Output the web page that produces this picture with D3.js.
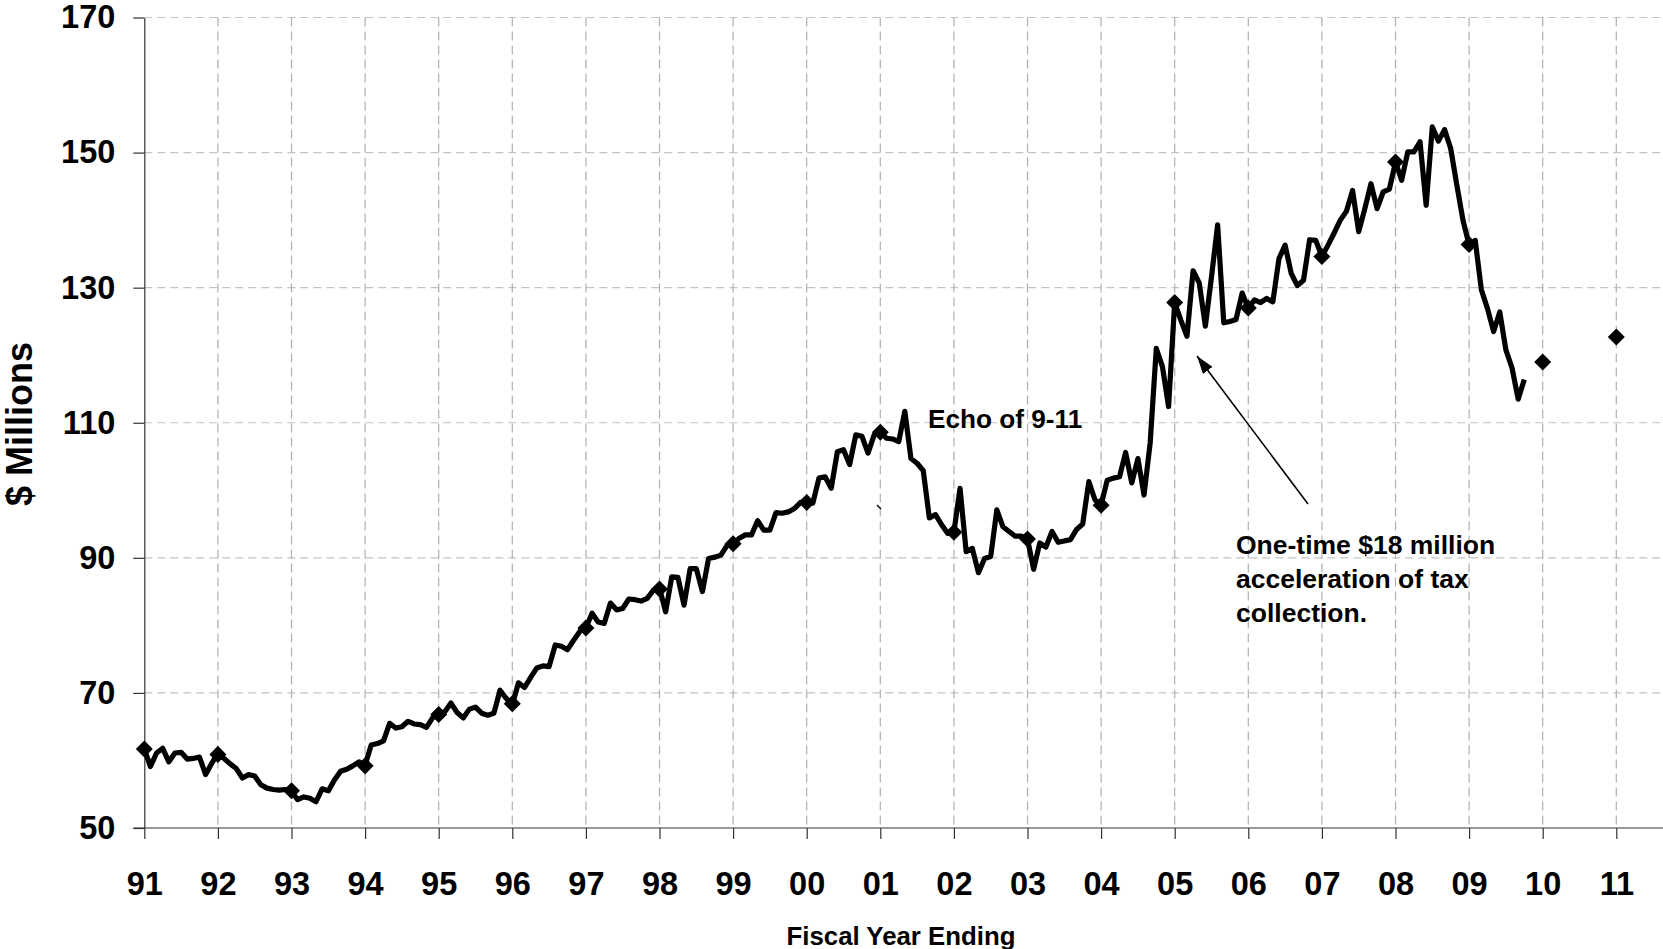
<!DOCTYPE html>
<html><head><meta http-equiv="Content-Type" content="text/html; charset=UTF-8">
<script src="https://d3js.org/d3.v7.min.js"></script>
<style>
  body { margin: 0; background: #fff; }
  svg text { font-family: "Liberation Sans", Arial, sans-serif; font-weight: bold; fill: #000; }
</style>
</head>
<body>
<div id="body"></div>
<script type="text/javascript">

var w = 1663,
    h = 949;

// fiscal year labels on the x axis (index 0 = 91)
var yearLabels = ["91","92","93","94","95","96","97","98","99","00",
                  "01","02","03","04","05","06","07","08","09","10","11"];

// fiscal year end values ($ millions), diamonds
var yearValues = [61.7, 60.9, 55.5, 59.2, 66.8, 68.4, 79.6, 85.4, 92.1, 98.2,
                  108.6, 93.8, 92.8, 97.8, 127.8, 127.0, 134.6, 148.6, 136.4, 119.0, 122.7];

// monthly 12-month totals, starting at fiscal year end 91
var monthly = [
  61.7, 59.1, 61.1, 61.8, 59.8, 61.1, 61.2, 60.2, 60.3, 60.5, 57.9, 59.6, 61.0,
  60.3, 59.5, 58.8, 57.4, 57.9, 57.7, 56.4, 55.9, 55.7, 55.6, 55.7, 55.4,
  54.2, 54.6, 54.4, 53.9, 55.8, 55.5, 57.1, 58.4, 58.7, 59.2, 59.8, 59.3,
  62.3, 62.5, 62.9, 65.5, 64.8, 65.0, 65.8, 65.4, 65.3, 64.9, 66.3, 66.9,
  67.2, 68.5, 67.1, 66.3, 67.6, 67.9, 67.0, 66.7, 67.0, 70.4, 69.2, 68.2,
  71.5, 70.8, 72.3, 73.7, 74.0, 73.9, 77.1, 76.9, 76.4, 77.8, 79.1, 79.6,
  81.8, 80.5, 80.3, 83.3, 82.3, 82.5, 83.9, 83.8, 83.6, 84.0, 85.2, 85.5,
  82.0, 87.2, 87.1, 83.0, 88.4, 88.4, 85.0, 89.9, 90.1, 90.4, 91.8, 92.0,
  92.9, 93.4, 93.4, 95.5, 94.1, 94.1, 96.7, 96.6, 96.8, 97.3, 98.2, 98.2,
  98.1, 101.8, 102.0, 100.3, 105.7, 106.0, 103.8, 108.2, 108.0, 105.5, 108.2, 108.7,
  107.7, 107.6, 107.2, 111.7, 104.7, 104.0, 102.9, 95.9, 96.4, 94.9, 93.6, 93.8,
  100.3, 90.9, 91.4, 87.8, 89.9, 90.2, 97.1, 94.6, 93.9, 93.2, 93.2, 92.8,
  88.3, 92.2, 91.6, 93.9, 92.3, 92.5, 92.7, 94.2, 95.0, 101.3, 98.6, 97.8,
  101.5, 101.8, 102.0, 105.6, 101.1, 104.7, 99.3, 107.0, 121.0, 118.3, 112.4, 127.8,
  125.2, 122.8, 132.5, 130.7, 124.3, 131.6, 139.3, 124.8, 125.0, 125.3, 129.2, 126.9,
  128.2, 127.8, 128.4, 127.9, 134.3, 136.3, 132.1, 130.3, 131.1, 137.1, 137.0, 134.6,
  136.3, 138.1, 140.0, 141.3, 144.4, 138.3, 141.7, 145.4, 141.7, 144.2, 144.6, 148.6,
  145.9, 150.1, 150.1, 151.6, 142.2, 153.8, 151.7, 153.4, 150.6, 145.2, 140.0, 136.3,
  137.0, 129.7, 126.9, 123.5, 126.4, 120.8, 118.1, 113.5, 116.4
];

var yTicks = [50, 70, 90, 110, 130, 150, 170];

var x = d3.scaleLinear().domain([0, 20]).range([144.3, 1616.3]);
var y = d3.scaleLinear().domain([50, 170]).range([828, 17.5]);

var svg = d3.select("#body").append("svg")
    .attr("width", w)
    .attr("height", h);

svg.append("rect")
    .attr("width", w)
    .attr("height", h)
    .attr("fill", "#fff");

// grid
svg.append("g").selectAll("line")
    .data(yTicks.slice(1))
    .enter().append("line")
    .attr("x1", x(0)).attr("x2", w)
    .attr("y1", function(d) { return y(d); })
    .attr("y2", function(d) { return y(d); })
    .style("stroke", "#c4c4c4")
    .style("stroke-width", 1.2)
    .style("stroke-dasharray", "8,5");

svg.append("g").selectAll("line")
    .data(d3.range(1, 21))
    .enter().append("line")
    .attr("x1", function(d) { return x(d); })
    .attr("x2", function(d) { return x(d); })
    .attr("y1", y(170)).attr("y2", y(50))
    .style("stroke", "#b0b0b0")
    .style("stroke-width", 1.2)
    .style("stroke-dasharray", "9,5");

// axes
var yAxis = d3.axisLeft(y)
    .tickValues(yTicks)
    .tickSize(11)
    .tickSizeOuter(0)
    .tickPadding(18)
    .tickFormat(d3.format("d"));

var gy = svg.append("g")
    .attr("transform", "translate(" + x(0) + ",0)")
    .call(yAxis);

var xAxis = d3.axisBottom(x)
    .tickValues(d3.range(21))
    .tickSize(11)
    .tickSizeOuter(0)
    .tickPadding(33)
    .tickFormat(function(i) { return yearLabels[i]; });

var gx = svg.append("g")
    .attr("transform", "translate(0," + y(50) + ")")
    .call(xAxis);
gx.select(".domain").remove();
gx.append("line")
    .attr("x1", x(0) - 11).attr("x2", w)
    .attr("y1", 0).attr("y2", 0);

[gx, gy].forEach(function(g) {
    g.selectAll("path, line").style("stroke", "#333").style("stroke-width", 1.2);
    g.selectAll("text")
        .style("font-family", "'Liberation Sans', Arial, sans-serif")
        .style("font-weight", "bold")
        .style("font-size", "32.5px")
        .style("fill", "#000");
});

// monthly line
var line = d3.line()
    .x(function(d, i) { return x(i / 12); })
    .y(function(d) { return y(d); });

svg.append("path")
    .datum(monthly)
    .attr("d", line)
    .style("fill", "none")
    .style("stroke", "#000")
    .style("stroke-width", 5.2)
    .style("stroke-linejoin", "round");

// year-end diamonds
svg.append("g").selectAll("path")
    .data(yearValues)
    .enter().append("path")
    .attr("d", d3.symbol().type(d3.symbolSquare).size(145))
    .attr("transform", function(d, i) { return "translate(" + x(i) + "," + y(d) + ") rotate(45)"; })
    .style("fill", "#000");

// axis titles
svg.append("text")
    .attr("transform", "translate(32,424) rotate(-90)")
    .style("text-anchor", "middle")
    .style("font-size", "36px")
    .text("$ Millions");

svg.append("text")
    .attr("x", 901).attr("y", 945)
    .style("text-anchor", "middle")
    .style("font-size", "25.8px")
    .text("Fiscal Year Ending");

// annotations
svg.append("text")
    .attr("x", 928).attr("y", 428)
    .style("font-size", "26.2px")
    .text("Echo of 9-11");

svg.append("line")
    .attr("x1", 877).attr("y1", 505)
    .attr("x2", 881).attr("y2", 509)
    .style("stroke", "#000")
    .style("stroke-width", 1.5);

svg.append("defs").append("marker")
    .attr("id", "head")
    .attr("markerUnits", "userSpaceOnUse")
    .attr("markerWidth", 18).attr("markerHeight", 12)
    .attr("refX", 18).attr("refY", 6)
    .attr("orient", "auto")
    .append("path")
    .attr("d", "M0,0 L18,6 L0,12 z")
    .style("fill", "#000");

svg.append("line")
    .attr("x1", 1308).attr("y1", 504)
    .attr("x2", 1197).attr("y2", 356)
    .style("stroke", "#000")
    .style("stroke-width", 1.6)
    .attr("marker-end", "url(#head)");

var note = ["One-time $18 million", "acceleration of tax", "collection."];
svg.append("g").selectAll("text")
    .data(note)
    .enter().append("text")
    .attr("x", 1236)
    .attr("y", function(d, i) { return 554 + i * 34; })
    .style("font-size", "26.5px")
    .text(function(d) { return d; });

</script>
</body></html>
